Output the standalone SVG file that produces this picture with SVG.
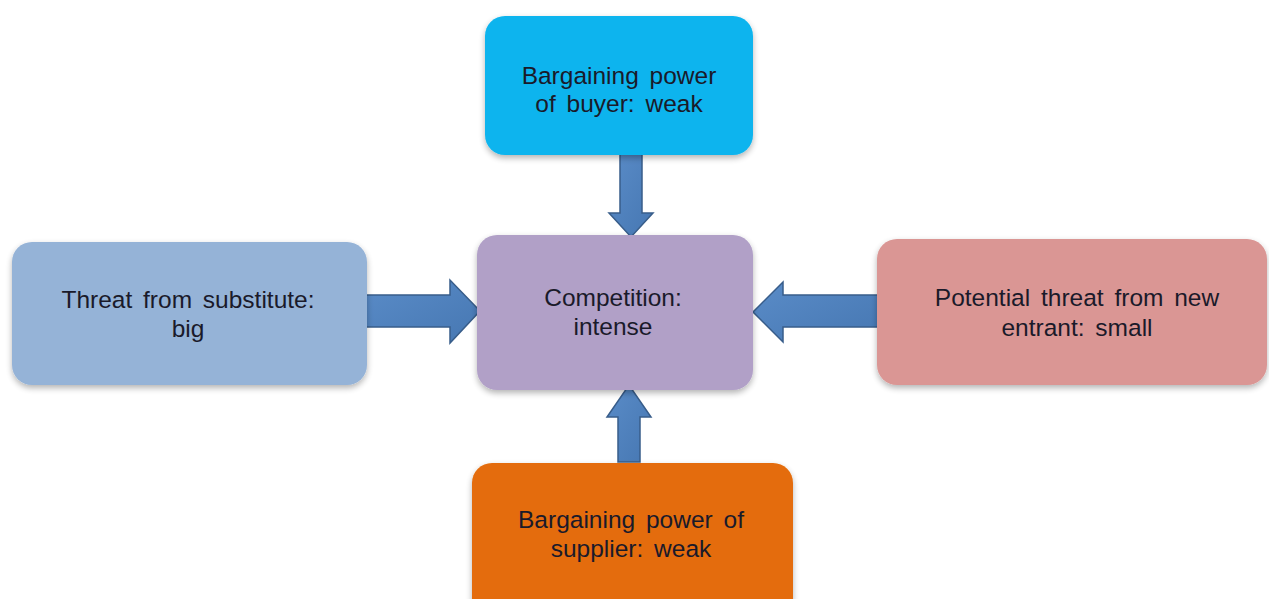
<svg xmlns="http://www.w3.org/2000/svg" width="1269" height="599" viewBox="0 0 1269 599">
  <defs>
    <filter id="sh" x="-10%" y="-10%" width="120%" height="130%">
      <feGaussianBlur in="SourceAlpha" stdDeviation="3"/>
      <feOffset dx="0" dy="3" result="b"/>
      <feComponentTransfer><feFuncA type="linear" slope="0.3"/></feComponentTransfer>
      <feMerge><feMergeNode/><feMergeNode in="SourceGraphic"/></feMerge>
    </filter>
    <linearGradient id="ag" x1="0" y1="0" x2="1" y2="1">
      <stop offset="0" stop-color="#5A8CC8"/>
      <stop offset="1" stop-color="#4677B2"/>
    </linearGradient>
  </defs>
  <style>
    .box { filter: url(#sh); }
    .t { font-family: "Liberation Sans", Arial, sans-serif; font-size: 24.5px; fill: #1a1a2a; text-anchor: middle; word-spacing: 4px; }
    .arr { fill: url(#ag); stroke: #385D8A; stroke-width: 1.5; stroke-linejoin: miter; }
  </style>
  <rect width="1269" height="599" fill="#ffffff"/>

  <g id="connectors">
    <polygon class="arr" points="620,153 642,153 642,213 653,213 631,237 609,213 620,213"/>
    <polygon class="arr" points="363,295 450,295 450,280 480,311 450,343 450,327 363,327"/>
    <polygon class="arr" points="880,295 783,295 783,282 753,312 783,342 783,327 880,327"/>
    <polygon class="arr" points="618,462 640,462 640,417 651,417 629,385 607,417 618,417"/>
  </g>

  <g id="node-buyer">
    <rect class="box" x="485" y="16" width="268" height="139" rx="20" fill="#0AB4EE"/>
    <text class="t" x="619" y="84">Bargaining power</text>
    <text class="t" x="619" y="112">of buyer: weak</text>
  </g>

  <g id="node-competition">
    <rect class="box" x="477" y="235" width="276" height="155" rx="20" fill="#B1A0C7"/>
    <text class="t" x="613" y="306">Competition:</text>
    <text class="t" x="613" y="335">intense</text>
  </g>

  <g id="node-substitute">
    <rect class="box" x="12" y="242" width="355" height="143" rx="20" fill="#95B3D7"/>
    <text class="t" x="188" y="308">Threat from substitute:</text>
    <text class="t" x="188" y="337">big</text>
  </g>

  <g id="node-entrant">
    <rect class="box" x="877" y="239" width="390" height="146" rx="20" fill="#DA9694"/>
    <text class="t" x="1077" y="306">Potential threat from new</text>
    <text class="t" x="1077" y="336">entrant: small</text>
  </g>

  <g id="node-supplier">
    <rect class="box" x="472" y="463" width="321" height="160" rx="20" fill="#E46C0A"/>
    <text class="t" x="631" y="528">Bargaining power of</text>
    <text class="t" x="631" y="557">supplier: weak</text>
  </g>
</svg>
